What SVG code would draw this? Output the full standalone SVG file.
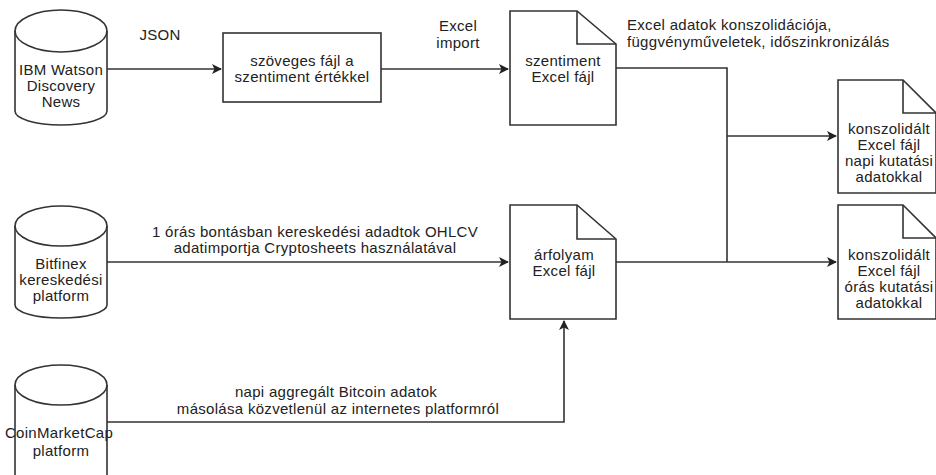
<svg xmlns="http://www.w3.org/2000/svg" width="936" height="475" viewBox="0 0 936 475">
<style>
.s{fill:#fff;stroke:#333;stroke-width:1.6}
.l{fill:none;stroke:#333;stroke-width:1.6}
text{font-family:"Liberation Sans",Arial,sans-serif;font-size:15px;letter-spacing:0.3px;fill:#222}
.c{text-anchor:middle}
</style>
<defs>
<marker id="ah" markerWidth="10" markerHeight="10" refX="9" refY="5" orient="auto" markerUnits="userSpaceOnUse">
<path d="M0,0 L10,5 L0,10 L2.5,5 Z" fill="#222"/>
</marker>
</defs>
<rect width="936" height="475" fill="#fff"/>
<g id="connectors">
<path class="l" d="M107,69 H221" marker-end="url(#ah)"/>
<path class="l" d="M381,69 H508" marker-end="url(#ah)"/>
<path class="l" d="M616,68 H727 V262"/>
<path class="l" d="M727,136 H836" marker-end="url(#ah)"/>
<path class="l" d="M616,262 H836" marker-end="url(#ah)"/>
<path class="l" d="M107,262 H508" marker-end="url(#ah)"/>
<path class="l" d="M107,422 H564 V321" marker-end="url(#ah)"/>
<text x="160" y="40" class="c">JSON</text>
<text x="458" y="31" class="c">Excel</text>
<text x="458" y="48" class="c">import</text>
<text x="627" y="30">Excel adatok konszolidációja,</text>
<text x="627" y="47">függvényműveletek, időszinkronizálás</text>
<text x="315" y="237" class="c">1 órás bontásban kereskedési adadtok OHLCV</text>
<text x="315" y="253" class="c">adatimportja Cryptosheets használatával</text>
<text x="336" y="397" class="c">napi aggregált Bitcoin adatok</text>
<text x="338" y="414" class="c">másolása közvetlenül az internetes platformról</text>
</g>
<g id="ibm">
<path class="s" d="M15,31 A46,21 0 0 1 107,31 V111 A46,14 0 0 1 15,111 Z"/>
<path class="l" d="M15,31 A46,21 0 0 0 107,31"/>
<text x="61" y="75" class="c">IBM Watson</text>
<text x="61" y="91" class="c">Discovery</text>
<text x="61" y="107" class="c">News</text>
</g>
<g id="szoveges">
<rect class="s" x="223" y="33" width="158" height="69"/>
<text x="302" y="66" class="c">szöveges fájl a</text>
<text x="302" y="82" class="c">szentiment értékkel</text>
</g>
<g id="szentiment">
<path class="s" d="M510,11 H577 L616,44 V125 H510 Z"/>
<path class="l" d="M577,11 V44 H616"/>
<text x="563" y="66" class="c">szentiment</text>
<text x="563" y="82" class="c">Excel fájl</text>
</g>
<g id="bitfinex">
<path class="s" d="M15,226 A46,20 0 0 1 107,226 V305 A46,13 0 0 1 15,305 Z"/>
<path class="l" d="M15,226 A46,20 0 0 0 107,226"/>
<text x="61" y="269" class="c">Bitfinex</text>
<text x="61" y="285" class="c">kereskedési</text>
<text x="61" y="301" class="c">platform</text>
</g>
<g id="arfolyam">
<path class="s" d="M510,205 H577 L616,239 V319 H510 Z"/>
<path class="l" d="M577,205 V239 H616"/>
<text x="564" y="260" class="c">árfolyam</text>
<text x="564" y="276" class="c">Excel fájl</text>
</g>
<g id="coinmarketcap">
<path class="s" d="M15,385 A46,20 0 0 1 107,385 V480 H15 Z"/>
<path class="l" d="M15,385 A46,20 0 0 0 107,385"/>
<text x="59" y="438" class="c">CoinMarketCap</text>
<text x="61" y="456" class="c">platform</text>
</g>
<g id="napi">
<path class="s" d="M838,80 H903 L936,113 V193 H838 Z"/>
<path class="l" d="M903,80 V113 H936"/>
<text x="889" y="134" class="c">konszolidált</text>
<text x="889" y="150" class="c">Excel fájl</text>
<text x="889" y="166" class="c">napi kutatási</text>
<text x="889" y="182" class="c">adatokkal</text>
</g>
<g id="oras">
<path class="s" d="M838,205 H903 L936,238 V319 H838 Z"/>
<path class="l" d="M903,205 V238 H936"/>
<text x="889" y="260" class="c">konszolidált</text>
<text x="889" y="276" class="c">Excel fájl</text>
<text x="889" y="292" class="c">órás kutatási</text>
<text x="889" y="308" class="c">adatokkal</text>
</g>
</svg>
